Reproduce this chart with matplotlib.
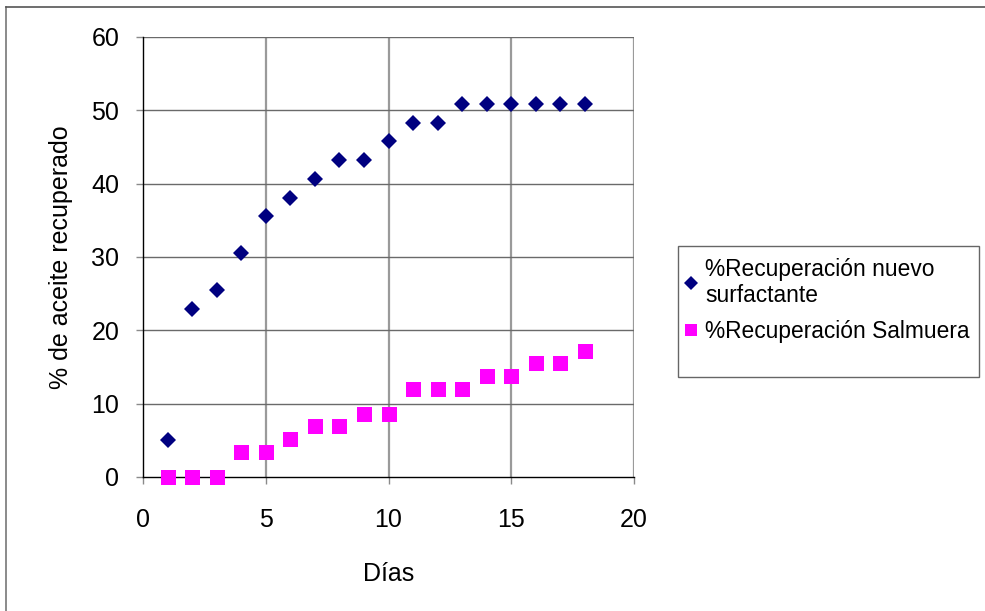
import matplotlib
matplotlib.use("Agg")
import matplotlib.pyplot as plt
from matplotlib.patches import Rectangle

# days and recovered oil (%)
dias = [1, 2, 3, 4, 5, 6, 7, 8, 9, 10, 11, 12, 13, 14, 15, 16, 17, 18]
surfactante = [5.1, 22.9, 25.5, 30.5, 35.6, 38.1, 40.7, 43.2, 43.2, 45.8,
               48.3, 48.3, 50.9, 50.9, 50.9, 50.9, 50.9, 50.9]
salmuera = [0, 0, 0, 3.4, 3.4, 5.2, 6.9, 6.9, 8.6, 8.6,
            12.0, 12.0, 12.0, 13.8, 13.8, 15.5, 15.5, 17.2]

lbl_surf = "%Recuperación nuevo\nsurfactante"
lbl_salm = "%Recuperación Salmuera"
xticks = [0, 5, 10, 15, 20]
yticks = [0, 10, 20, 30, 40, 50, 60]

plt.rcParams['font.family'] = ['Liberation Sans', 'DejaVu Sans']

W, H = 985, 611
fig = plt.figure(figsize=(W / 100, H / 100), dpi=100)
ax = fig.add_axes([143 / W, 1 - 477 / H, (634 - 143) / W, (477 - 37) / H])

ax.plot(dias, surfactante, linestyle='none', marker='D', ms=7.8,
        mew=0, color='#000080', label=lbl_surf, clip_on=False, zorder=3)
ax.plot(dias, salmuera, linestyle='none', marker='s', ms=10.8,
        mew=0, color='#FF00FF', label=lbl_salm, clip_on=False, zorder=3)

ax.set_xlim(0, 20)
ax.set_ylim(0, 60)
ax.set_xticks(xticks)
ax.set_yticks(yticks)

# gridlines: vertical lighter & thicker, horizontal darker
for x in xticks[1:]:
    ax.axvline(x, color='#9a9a9a', lw=1.6, zorder=1)
for y in yticks[1:]:
    ax.axhline(y, color='#6a6a6a', lw=1.0, zorder=1)

for s in ['top', 'right']:
    ax.spines[s].set_visible(False)
ax.spines['left'].set_color('black')
ax.spines['bottom'].set_color('black')
ax.spines['left'].set_linewidth(1.0)
ax.spines['bottom'].set_linewidth(1.0)

ax.tick_params(axis='both', direction='out', length=5, width=1,
               color='#8a8a8a', labelsize=18, pad=12)
ax.tick_params(axis='x', pad=17)

ax.set_xlabel("Días", fontsize=18, labelpad=22)
ax.set_ylabel("% de aceite recuperado", fontsize=18)
ax.yaxis.set_label_coords(-0.142, 0.5)

# legend box
fig.patches.append(Rectangle((678 / W, 1 - 377 / H), (979 - 678) / W, (377 - 246) / H,
                             transform=fig.transFigure, fill=False,
                             edgecolor='#666666', lw=1.0))
leg = fig.legend(loc='upper left', bbox_to_anchor=(680 / W, 1 - 253 / H),
                 frameon=False, fontsize=16.4, handlelength=0.6,
                 handletextpad=0.3, labelspacing=0.55, borderaxespad=0,
                 borderpad=0.2)
for h in leg.legend_handles:
    h.set_markersize(h.get_markersize() * 0.85)

# outer chart border (top and left visible)
fig.add_artist(plt.Line2D([6 / W, 6 / W], [0, 1 - 7 / H], transform=fig.transFigure,
                          color='#777777', lw=1.2))
fig.add_artist(plt.Line2D([6 / W, 1], [1 - 7 / H, 1 - 7 / H], transform=fig.transFigure,
                          color='#555555', lw=1.2))

fig.savefig("out.png", dpi=100)
